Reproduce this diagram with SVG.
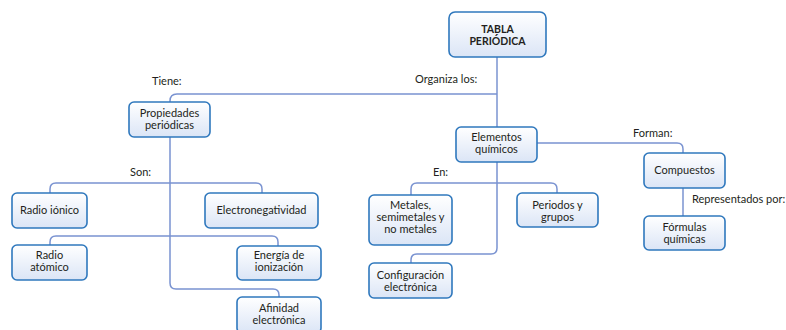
<svg xmlns="http://www.w3.org/2000/svg" width="786" height="330" viewBox="0 0 786 330">
<defs>
<linearGradient id="g" x1="0" y1="0" x2="0" y2="1">
<stop offset="0" stop-color="#ffffff"/>
<stop offset="1" stop-color="#dbe5f6"/>
</linearGradient>
<style>
.box{fill:url(#g);stroke:#2f78bd;stroke-width:1.6}
.t{font-family:Lato,"Liberation Sans",sans-serif;font-size:11px;fill:#231f20;text-anchor:middle}
.b{font-weight:bold;font-size:10.5px}
.l{font-family:Lato,"Liberation Sans",sans-serif;font-size:11px;fill:#231f20}
.c{fill:none;stroke:#7a93d1;stroke-width:1.5}
</style>
</defs>
<rect width="786" height="330" fill="#ffffff"/>
<g id="connectors">
<path class="c" d="M497,57 V127"/>
<path class="c" d="M497,94 H177 Q170,94 170,101 V102"/>
<path class="c" d="M170,137 V283 Q170,289 176,289 H273 Q279,289 279,295 V297"/>
<path class="c" d="M50,193 V189 Q50,183 56,183 H256 Q262,183 262,189 V193"/>
<path class="c" d="M50,245 V242 Q50,236 56,236 H272 Q278,236 278,242 V246"/>
<path class="c" d="M537,143 H677 Q683,143 683,149 V153"/>
<path class="c" d="M683,188 V216"/>
<path class="c" d="M497,162 V248 Q497,254 491,254 H417 Q411,254 411,260 V263"/>
<path class="c" d="M411,195 V189 Q411,183 417,183 H551 Q557,183 557,189 V193"/>
</g>
<g id="labels">
<text class="l" x="415" y="83">Organiza los:</text>
<text class="l" x="152" y="85">Tiene:</text>
<text class="l" x="130" y="176">Son:</text>
<text class="l" x="433" y="176">En:</text>
<text class="l" x="633" y="137">Forman:</text>
<text class="l" x="692" y="203">Representados por:</text>
</g>
<g id="tabla">
<rect class="box" x="449" y="12" width="97" height="45" rx="6"/>
<text class="t b" x="497.5" y="33">TABLA</text>
<text class="t b" x="497.5" y="45">PERIÓDICA</text>
</g>
<g id="propiedades">
<rect class="box" x="129" y="102" width="81" height="35" rx="5"/>
<text class="t" x="169.5" y="117">Propiedades</text>
<text class="t" x="169.5" y="129">periódicas</text>
</g>
<g id="radio-ionico">
<rect class="box" x="12" y="193" width="75" height="35" rx="5"/>
<text class="t" x="49.5" y="214">Radio iónico</text>
</g>
<g id="electronegatividad">
<rect class="box" x="205" y="193" width="113" height="35" rx="5"/>
<text class="t" x="261.5" y="214">Electronegatividad</text>
</g>
<g id="radio-atomico">
<rect class="box" x="12" y="245" width="75" height="35" rx="5"/>
<text class="t" x="49.5" y="259">Radio</text>
<text class="t" x="49.5" y="271">atómico</text>
</g>
<g id="energia">
<rect class="box" x="237" y="246" width="84" height="34" rx="5"/>
<text class="t" x="279" y="259">Energía de</text>
<text class="t" x="279" y="271">ionización</text>
</g>
<g id="afinidad">
<rect class="box" x="237" y="297" width="84" height="36" rx="5"/>
<text class="t" x="279" y="312">Afinidad</text>
<text class="t" x="279" y="324">electrónica</text>
</g>
<g id="elementos">
<rect class="box" x="456" y="127" width="81" height="35" rx="5"/>
<text class="t" x="496.5" y="141">Elementos</text>
<text class="t" x="496.5" y="153">químicos</text>
</g>
<g id="metales">
<rect class="box" x="369" y="195" width="83" height="50" rx="5"/>
<text class="t" x="410.5" y="209">Metales,</text>
<text class="t" x="410.5" y="221">semimetales y</text>
<text class="t" x="410.5" y="233">no metales</text>
</g>
<g id="periodos">
<rect class="box" x="517" y="193" width="81" height="34" rx="5"/>
<text class="t" x="557.5" y="209">Periodos y</text>
<text class="t" x="557.5" y="221">grupos</text>
</g>
<g id="configuracion">
<rect class="box" x="369" y="263" width="83" height="35" rx="5"/>
<text class="t" x="410.5" y="279">Configuración</text>
<text class="t" x="410.5" y="291">electrónica</text>
</g>
<g id="compuestos">
<rect class="box" x="644" y="153" width="81" height="35" rx="5"/>
<text class="t" x="684.5" y="174">Compuestos</text>
</g>
<g id="formulas">
<rect class="box" x="644" y="216" width="81" height="34" rx="5"/>
<text class="t" x="684.5" y="231">Fórmulas</text>
<text class="t" x="684.5" y="243">químicas</text>
</g>
</svg>
